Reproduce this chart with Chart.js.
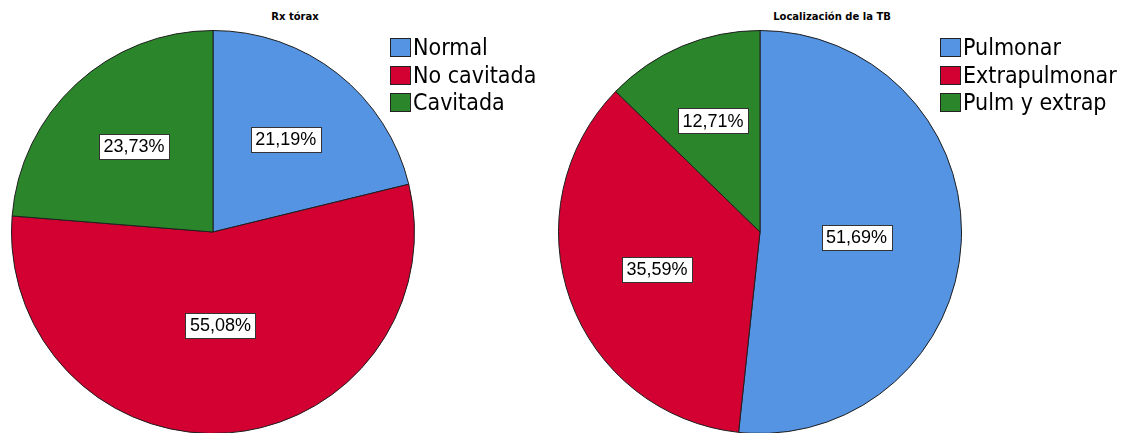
<!DOCTYPE html>
<html>
<head>
<meta charset="utf-8">
<script src="https://cdn.jsdelivr.net/npm/chart.js@4.4.1/dist/chart.umd.min.js"></script>
<style>
  html, body { margin: 0; padding: 0; background: #fff; }
  body { width: 1126px; height: 433px; position: relative; overflow: hidden; }
  .title { position: absolute; top: 11px; font: bold 10px "DejaVu Sans", sans-serif; color: #000; transform: translateX(-50%); white-space: nowrap; }
  .pie { position: absolute; top: 30px; width: 404px; height: 404px; }
  .legend { position: absolute; top: 34px; font-family: "DejaVu Sans Condensed", "DejaVu Sans", sans-serif; font-stretch: condensed; font-size: 23px; color: #000; }
  .legend div { height: 27.5px; line-height: 27px; white-space: nowrap; display: flex; align-items: center; }
  .legend span.box { display: inline-block; width: 19px; height: 17px; border: 1px solid #222; margin-right: 2px; }
</style>
</head>
<body>
<div class="title" style="left:295px">Rx tórax</div>
<div class="title" style="left:832px">Localización de la TB</div>
<div class="pie" style="left:11px"><canvas id="rx"></canvas></div>
<div class="pie" style="left:558px"><canvas id="loc"></canvas></div>
<div class="legend" id="rxLegend" style="left:390px"></div>
<div class="legend" id="locLegend" style="left:940px"></div>
<script>
// Rx tórax
const rxLabels = ['Normal', 'No cavitada', 'Cavitada'];
const rxValues = [21.19, 55.08, 23.73];

// Localización de la TB
const locLabels = ['Pulmonar', 'Extrapulmonar', 'Pulm y extrap'];
const locValues = [51.69, 35.59, 12.71];

const sliceColors = ['#5594e2', '#d30032', '#2b862b'];

function pct(v) {
    return v.toFixed(2).replace('.', ',') + '%';
}

// white boxed percentage labels, placed between the slice centroid and a fixed ring
const boxLabels = {
    id: 'boxLabels',
    afterDatasetsDraw(chart) {
        const ctx = chart.ctx;
        const meta = chart.getDatasetMeta(0);
        const values = chart.data.datasets[0].data;
        ctx.save();
        ctx.font = '18px "Liberation Sans", Arial, sans-serif';
        ctx.textAlign = 'center';
        ctx.textBaseline = 'middle';
        meta.data.forEach((arc, i) => {
            const sweep = arc.endAngle - arc.startAngle;
            const mid = arc.startAngle + sweep / 2;
            const centroid = 4 * Math.sin(sweep / 2) / (3 * sweep);
            const r = arc.outerRadius * (centroid + 0.55) / 2;
            const x = arc.x + Math.cos(mid) * r;
            const y = arc.y + Math.sin(mid) * r;
            const txt = pct(values[i]);
            const w = Math.round(ctx.measureText(txt).width + 9);
            const h = 25;
            const bx = Math.round(x - w / 2) + 0.5;
            const by = Math.round(y - h / 2) + 0.5;
            ctx.fillStyle = '#fff';
            ctx.fillRect(bx, by, w, h);
            ctx.strokeStyle = '#333';
            ctx.lineWidth = 1;
            ctx.strokeRect(bx, by, w, h);
            ctx.fillStyle = '#000';
            ctx.fillText(txt, x, y + 1);
        });
        ctx.restore();
    }
};

function makePie(id, labels, values) {
    new Chart(document.getElementById(id), {
        type: 'pie',
        data: {
            labels: labels,
            datasets: [{
                data: values,
                backgroundColor: sliceColors,
                borderColor: '#1e1e1e',
                borderWidth: 1
            }]
        },
        options: {
            responsive: true,
            maintainAspectRatio: false,
            animation: false,
            layout: { padding: 0 },
            plugins: {
                legend: { display: false },
                tooltip: { enabled: false }
            }
        },
        plugins: [boxLabels]
    });
}

function makeLegend(id, labels) {
    document.getElementById(id).innerHTML = labels.map((l, i) =>
        `<div><span class="box" style="background:${sliceColors[i]}"></span>${l}</div>`
    ).join('');
}

makePie('rx', rxLabels, rxValues);
makePie('loc', locLabels, locValues);
makeLegend('rxLegend', rxLabels);
makeLegend('locLegend', locLabels);
</script>
</body>
</html>
